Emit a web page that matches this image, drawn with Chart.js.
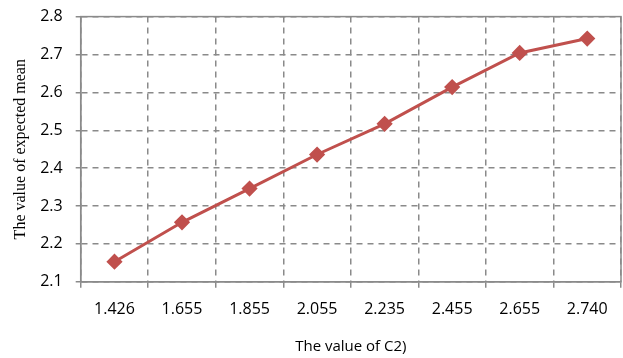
<!DOCTYPE html>
<html lang="en">
<head>
    <meta charset="UTF-8">
    <title>The value of expected mean</title>
    <script src="https://cdn.jsdelivr.net/npm/chart.js"></script>
    <style>
        html, body { margin: 0; padding: 0; background: #fff; overflow: hidden; }
        #wrap { width: 630px; height: 365px; margin-top: -6px; }
    </style>
</head>
<body>
    <div id="wrap"><canvas id="meanChart"></canvas></div>

    <script>
        // values
        const c2Values = ['1.426', '1.655', '1.855', '2.055', '2.235', '2.455', '2.655', '2.740'];
        const expectedMean = [2.153, 2.257, 2.346, 2.436, 2.517, 2.614, 2.704, 2.742];
        const yMin = 2.1;
        const yMax = 2.8;
        const yStep = 0.1;

        const axisGrey = '#8a8a8a';
        const lineRed = '#c0504d';

        // solid frame round the plot area (Excel style)
        const framePlugin = {
            id: 'frame',
            afterDraw(chart) {
                const a = chart.chartArea;
                const c = chart.ctx;
                c.save();
                c.strokeStyle = axisGrey;
                c.lineWidth = 1.5;
                c.strokeRect(a.left, a.top, a.right - a.left, a.bottom - a.top);
                c.restore();
            }
        };

        const ctx = document.getElementById('meanChart').getContext('2d');
        const meanChart = new Chart(ctx, {
            type: 'line',
            data: {
                labels: c2Values,
                datasets: [{
                    data: expectedMean,
                    borderColor: lineRed,
                    backgroundColor: lineRed,
                    borderWidth: 3,
                    pointStyle: 'rectRot',
                    pointRadius: 6,
                    pointHoverRadius: 6,
                    tension: 0
                }]
            },
            options: {
                responsive: true,
                maintainAspectRatio: false,
                animation: false,
                layout: { padding: { left: 11, right: 4, top: 3, bottom: 3 } },
                plugins: {
                    legend: { display: false },
                    tooltip: { enabled: false }
                },
                scales: {
                    x: {
                        offset: true,
                        grid: {
                            offset: true,
                            color: axisGrey,
                            lineWidth: 1.5,
                            tickLength: 6,
                            tickBorderDash: []
                        },
                        border: { color: axisGrey, width: 1.5, dash: [6, 5] },
                        ticks: {
                            color: '#000',
                            font: { family: 'Open Sans', size: 16 },
                            padding: 12,
                            maxRotation: 0
                        },
                        title: {
                            display: true,
                            text: 'The value of C2)',
                            color: '#000',
                            font: { family: 'Open Sans', size: 15 },
                            padding: { top: 7, bottom: 0 }
                        }
                    },
                    y: {
                        min: yMin,
                        max: yMax,
                        grid: {
                            color: axisGrey,
                            lineWidth: 1.5,
                            tickLength: 5,
                            tickBorderDash: []
                        },
                        border: { color: axisGrey, width: 1.5, dash: [6, 5] },
                        ticks: {
                            stepSize: yStep,
                            color: '#000',
                            font: { family: 'Open Sans', size: 16 },
                            padding: 13,
                            callback: (v) => v.toFixed(1)
                        },
                        title: {
                            display: true,
                            text: 'The value of expected mean',
                            color: '#000',
                            font: { family: 'Liberation Serif', size: 16 },
                            padding: { top: 0, bottom: -3 }
                        }
                    }
                }
            },
            plugins: [framePlugin]
        });
    </script>
</body>
</html>
